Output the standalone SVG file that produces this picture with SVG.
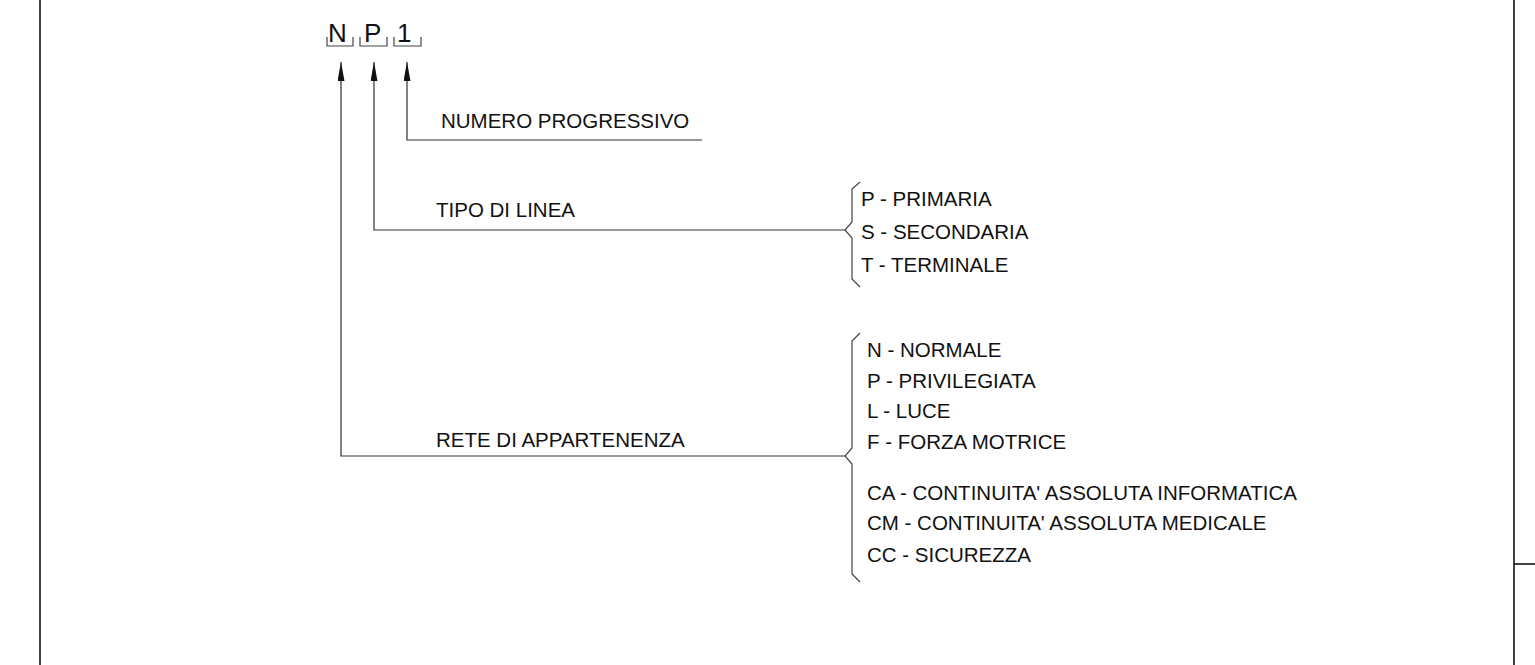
<svg xmlns="http://www.w3.org/2000/svg" width="1535" height="665" viewBox="0 0 1535 665">
<style>
.t{font-family:"Liberation Sans",Arial,sans-serif;font-size:20.5px;fill:#111}
.big{font-family:"Liberation Sans",Arial,sans-serif;font-size:26px;fill:#111}
.ln{fill:none;stroke:#333;stroke-width:1.2}
.br{fill:none;stroke:#444;stroke-width:1.2;stroke-linejoin:miter}
.bd{fill:none;stroke:#111;stroke-width:1.6}
</style>
<defs>
<marker id="ar" markerWidth="19" markerHeight="7" refX="19" refY="3.5" orient="auto" markerUnits="userSpaceOnUse" viewBox="0 0 19 7">
<path d="M0,0 L19,3.5 L0,7 Z" fill="#111"/>
</marker>
</defs>
<g id="frame">
<line class="bd" x1="40" y1="0" x2="40" y2="665"/>
<line class="bd" x1="1514" y1="0" x2="1514" y2="665"/>
<line class="bd" x1="1514" y1="564" x2="1535" y2="564"/>
</g>
<g id="code">
<text class="big" x="328" y="42">N</text>
<text class="big" x="364" y="42">P</text>
<text class="big" x="397" y="42">1</text>
<path class="br" d="M327,37 V46 H353 V37"/>
<path class="br" d="M360,37 V46 H387 V37"/>
<path class="br" d="M394,37 V46 H421 V37"/>
</g>
<g id="connectors">
<path class="ln" d="M702,140 H407 V62" marker-end="url(#ar)"/>
<path class="ln" d="M845,230 H374 V62" marker-end="url(#ar)"/>
<path class="ln" d="M845,456 H341 V62" marker-end="url(#ar)"/>
</g>
<g id="numero">
<text class="t" x="441" y="128">NUMERO PROGRESSIVO</text>
</g>
<g id="tipo">
<text class="t" x="436" y="217">TIPO DI LINEA</text>
<path class="br" d="M860,182 L852,189 V222 L845,230 L852,238 V279 L860,287"/>
<text class="t" x="861" y="206">P - PRIMARIA</text>
<text class="t" x="861" y="239">S - SECONDARIA</text>
<text class="t" x="861" y="272">T - TERMINALE</text>
</g>
<g id="rete">
<text class="t" x="436" y="447">RETE DI APPARTENENZA</text>
<path class="br" d="M860,333 L852,341 V448 L845,456 L852,464 V574 L860,582"/>
<text class="t" x="867" y="357">N - NORMALE</text>
<text class="t" x="867" y="388">P - PRIVILEGIATA</text>
<text class="t" x="867" y="418">L - LUCE</text>
<text class="t" x="867" y="449">F - FORZA MOTRICE</text>
<text class="t" x="867" y="500">CA - CONTINUITA' ASSOLUTA INFORMATICA</text>
<text class="t" x="867" y="530">CM - CONTINUITA' ASSOLUTA MEDICALE</text>
<text class="t" x="867" y="562">CC - SICUREZZA</text>
</g>
</svg>
